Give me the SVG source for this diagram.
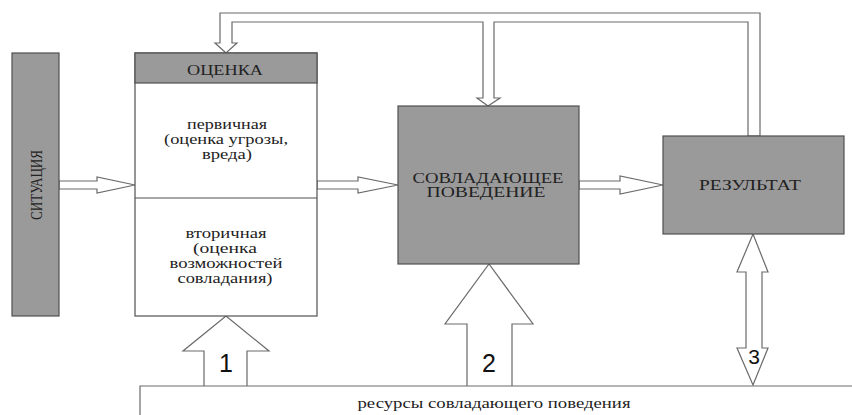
<svg xmlns="http://www.w3.org/2000/svg" width="852" height="415" viewBox="0 0 852 415">
<style>
.box{fill:#9a9a9a;stroke:#505050;stroke-width:1.2}
.wbox{fill:#fff;stroke:#505050;stroke-width:1.2}
.arr{fill:#fff;stroke:#6a6a6a;stroke-width:1.2;stroke-linejoin:miter}
.t{font-family:'Liberation Serif','DejaVu Serif','Times New Roman',serif;fill:#222;text-anchor:middle}
.n{font-family:'Liberation Sans',Arial,sans-serif;fill:#111;text-anchor:middle}
</style>
<rect width="852" height="415" fill="#fff"/>
<g id="connectors">
<path class="arr" d="M226,53 L215,43 L220,43 L220,13 L760,13 L760,136 L748,136 L748,22 L494,22 L494,98 L500,98 L488,106 L477,98 L483,98 L483,22 L232,22 L232,43 L237,43 Z"/>
<path class="arr" d="M59,181 L97,181 L97,177 L135,185 L97,193 L97,189 L59,189 Z"/>
<path class="arr" d="M317,181 L358,181 L358,177 L398,185 L358,193 L358,189 L317,189 Z"/>
<path class="arr" d="M579,181 L620,181 L620,176 L663,185 L620,194 L620,189 L579,189 Z"/>
<path class="arr" d="M204,386 L204,351 L183,351 L226,316 L269,351 L247,351 L247,386"/>
<path class="arr" d="M467,386 L467,324 L445,324 L489,264 L533,324 L512,324 L512,386"/>
<path class="arr" d="M753,234 L768,272 L762,272 L762,348 L768,348 L753,385 L737,348 L746,348 L746,272 L737,272 Z"/>
<text class="n" x="226" y="372" font-size="25">1</text>
<text class="n" x="489" y="372" font-size="25">2</text>
<text class="n" x="754" y="364" font-size="21">3</text>
</g>
<g id="situation">
<rect class="box" x="12" y="53" width="47" height="263"/>
<text class="t" transform="translate(42,185) rotate(-90)" x="0" y="0" font-size="16" textLength="70" lengthAdjust="spacingAndGlyphs">СИТУАЦИЯ</text>
</g>
<g id="assessment">
<rect class="wbox" x="135" y="53" width="182" height="263"/>
<rect class="box" x="135" y="53" width="182" height="30"/>
<line x1="135" y1="198" x2="317" y2="198" stroke="#505050" stroke-width="1.2"/>
<text class="t" x="225" y="75" font-size="14" textLength="76" lengthAdjust="spacingAndGlyphs">ОЦЕНКА</text>
<text class="t" x="227" y="129" font-size="14" textLength="80" lengthAdjust="spacingAndGlyphs">первичная</text>
<text class="t" x="226" y="144" font-size="14" textLength="124" lengthAdjust="spacingAndGlyphs">(оценка угрозы,</text>
<text class="t" x="227" y="159" font-size="14" textLength="50" lengthAdjust="spacingAndGlyphs">вреда)</text>
<text class="t" x="226" y="238" font-size="14" textLength="81" lengthAdjust="spacingAndGlyphs">вторичная</text>
<text class="t" x="225" y="253" font-size="14" textLength="64" lengthAdjust="spacingAndGlyphs">(оценка</text>
<text class="t" x="226" y="268" font-size="14" textLength="113" lengthAdjust="spacingAndGlyphs">возможностей</text>
<text class="t" x="225" y="283" font-size="14" textLength="95" lengthAdjust="spacingAndGlyphs">совладания)</text>
</g>
<g id="coping">
<rect class="box" x="398" y="106" width="181" height="158"/>
<text class="t" x="488" y="183" font-size="14" textLength="151" lengthAdjust="spacingAndGlyphs">СОВЛАДАЮЩЕЕ</text>
<text class="t" x="486" y="197" font-size="14" textLength="119" lengthAdjust="spacingAndGlyphs">ПОВЕДЕНИЕ</text>
</g>
<g id="result">
<rect class="box" x="663" y="136" width="181" height="98"/>
<text class="t" x="750" y="190" font-size="14" textLength="102" lengthAdjust="spacingAndGlyphs">РЕЗУЛЬТАТ</text>
</g>
<g id="resources">
<path d="M140,415 L140,386 L852,386" fill="none" stroke="#6a6a6a" stroke-width="1.2"/>
<text class="t" x="494" y="408" font-size="14" textLength="273" lengthAdjust="spacingAndGlyphs">ресурсы совладающего поведения</text>
</g>
</svg>
